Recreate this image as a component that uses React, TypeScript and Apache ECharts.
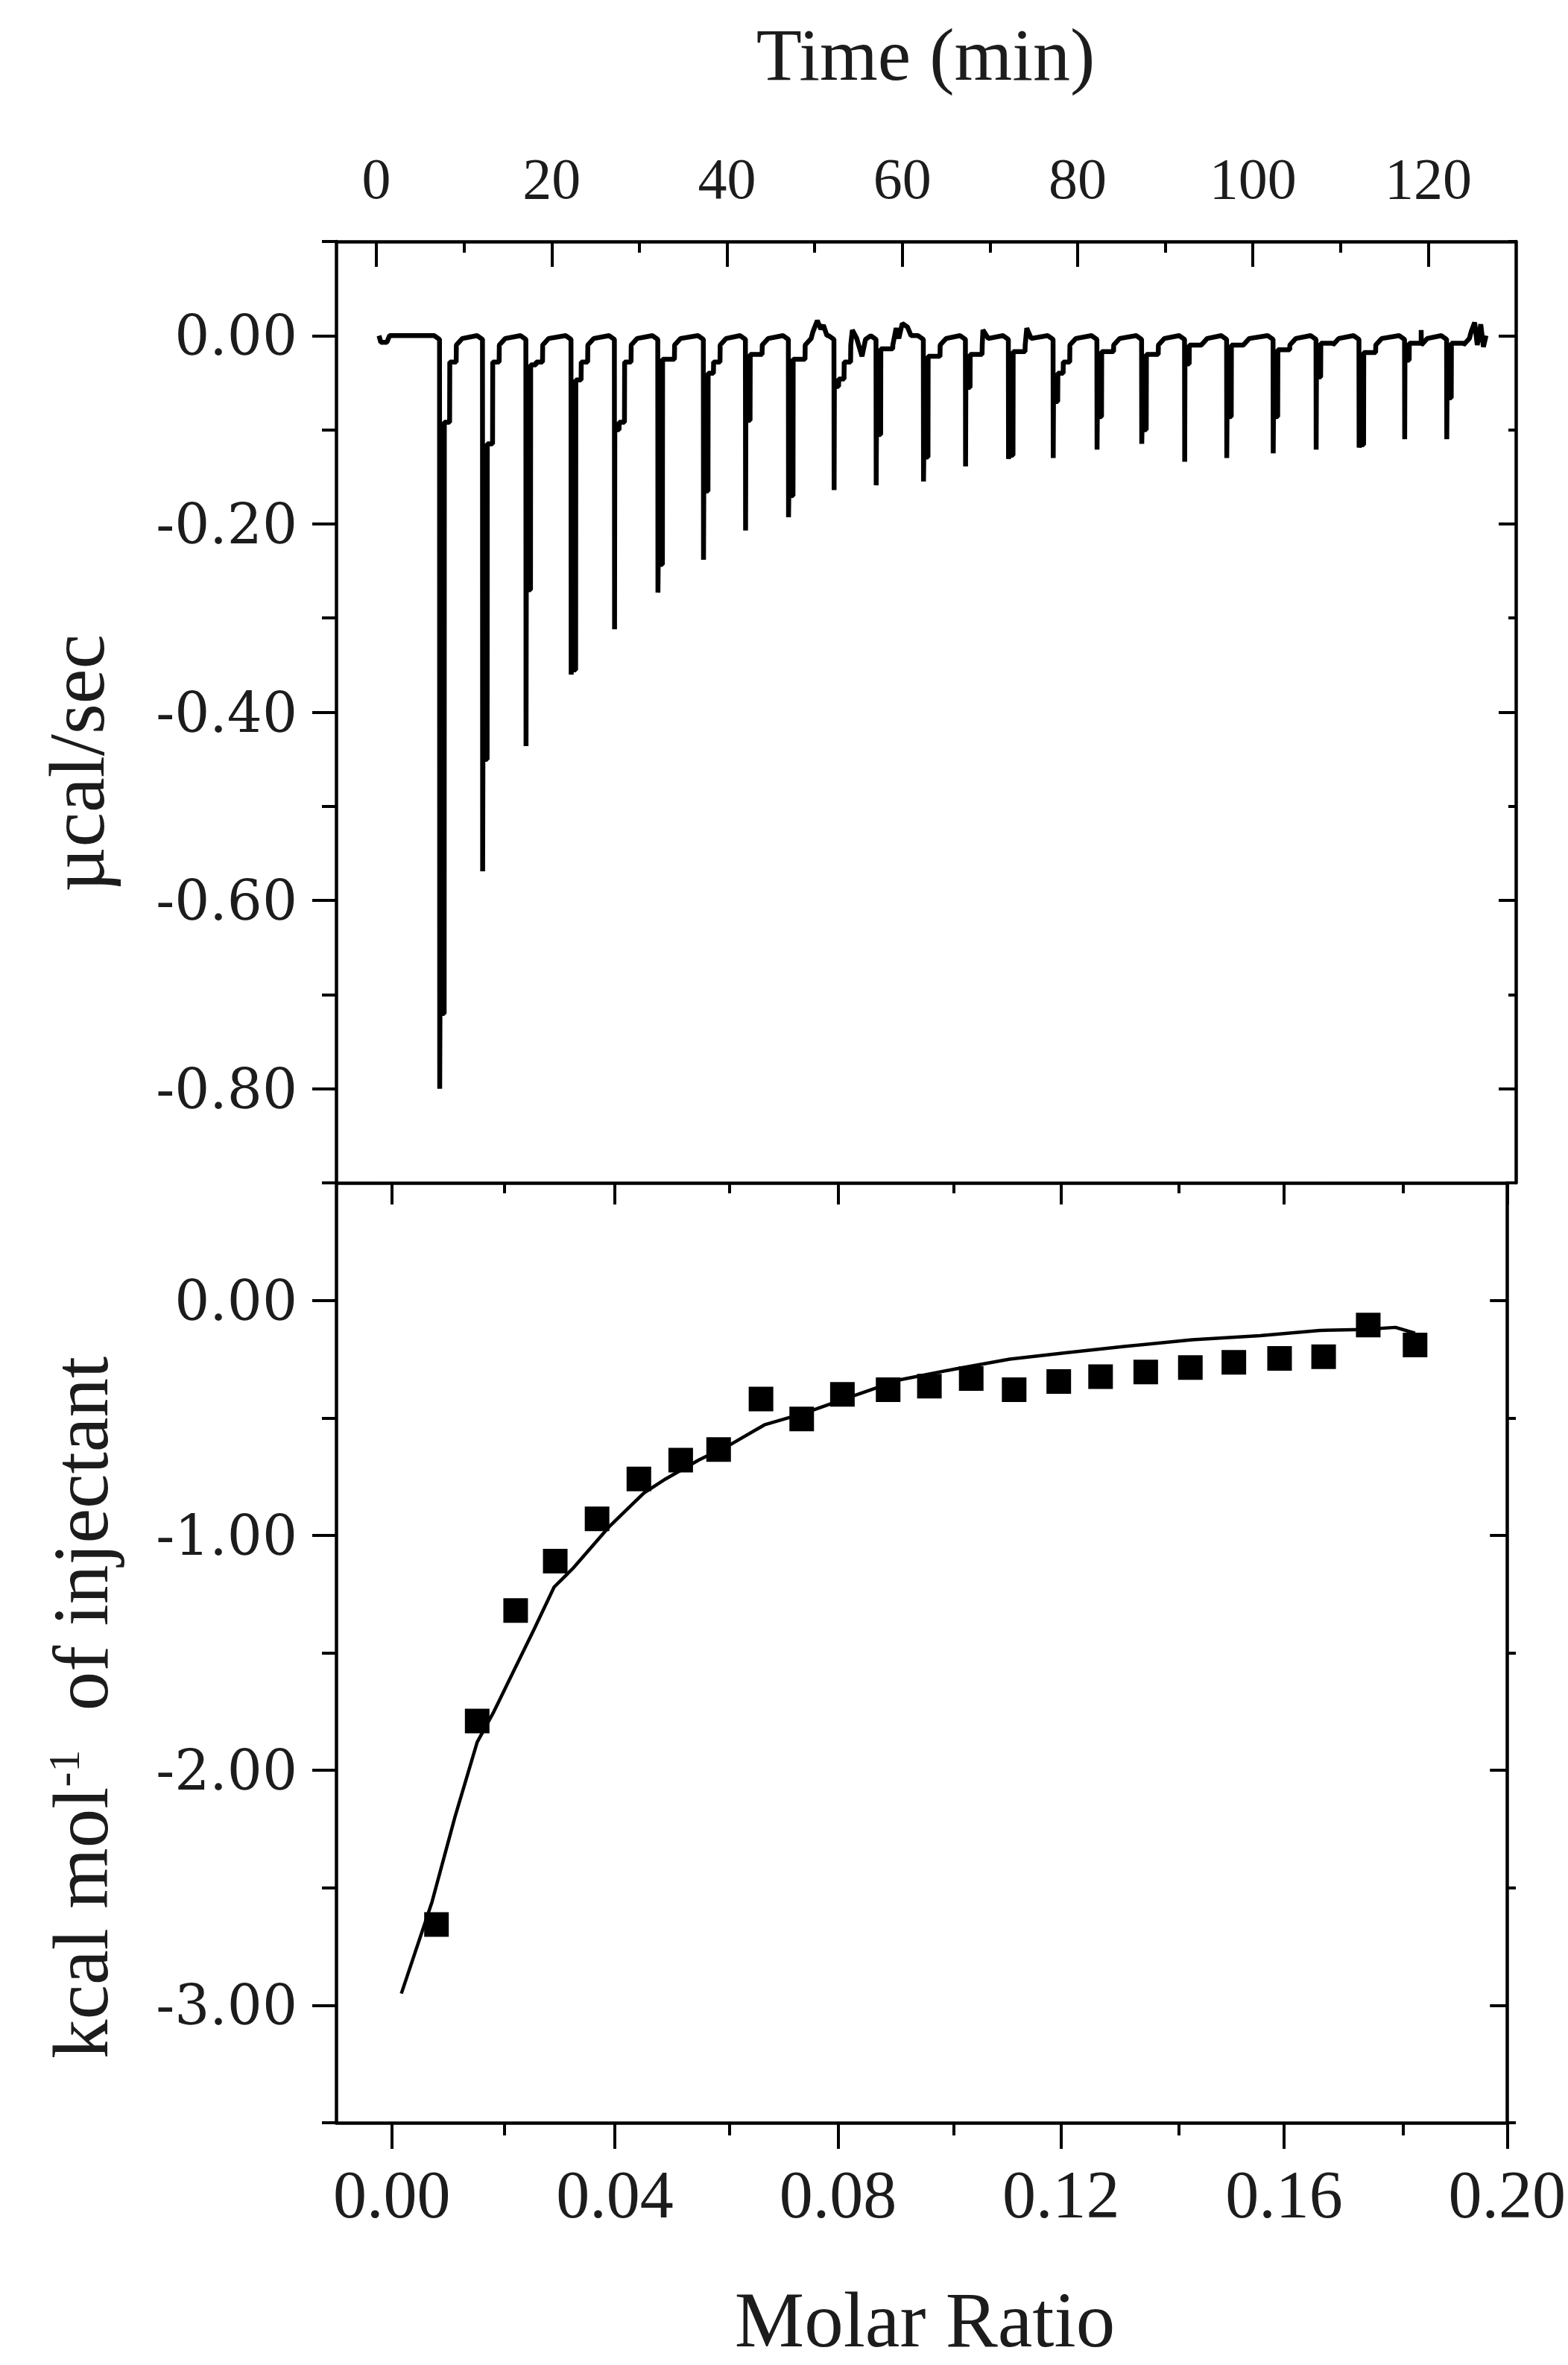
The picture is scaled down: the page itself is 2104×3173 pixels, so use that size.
import React, { useEffect, useRef } from 'react';
import * as echarts from 'echarts';

// ---------- axis ticks ----------
const timeTicks = [0, 20, 40, 60, 80, 100, 120];
const timeMinorTicks = [10, 30, 50, 70, 90, 110];
const powerTicks = [0, -0.2, -0.4, -0.6, -0.8];
const powerMinorTicks = [0.1, -0.1, -0.3, -0.5, -0.7, -0.9];
const ratioTicks = [0, 0.04, 0.08, 0.12, 0.16, 0.2];
const ratioMinorTicks = [0.02, 0.06, 0.1, 0.14, 0.18];
const heatTicks = [0, -1, -2, -3];
const heatMinorTicks = [0.5, -0.5, -1.5, -2.5, -3.5];

// ---------- raw thermogram ----------
// injection start time (min)
const injectionTime = [7.2, 12.1, 17.05, 22.2, 27.15, 32.1, 37.3, 42.1, 47.0, 52.2, 57.0, 62.4,
  67.2, 72.1, 77.2, 82.2, 87.3, 92.2, 97.0, 102.3, 107.2, 112.1, 117.3, 122.1];
// deepest point of each peak (µcal/sec)
const peakMin = [-0.8, -0.569, -0.436, -0.36, -0.312, -0.273, -0.238, -0.207, -0.193, -0.164, -0.159, -0.155,
  -0.139, -0.131, -0.13, -0.121, -0.115, -0.134, -0.13, -0.125, -0.121, -0.119, -0.11, -0.11];
// level where the fast return of the signal ends
const thickEnd = [-0.72, -0.45, -0.27, -0.355, -0.1, -0.243, -0.165, -0.09, -0.17, -0.054, -0.105, -0.129,
  -0.055, -0.127, -0.07, -0.086, -0.1, -0.03, -0.086, -0.086, -0.044, -0.116, -0.026, -0.066];
// level where the slow recovery separates from the rising edge
const gapBottom = [-0.092, -0.115, -0.031, -0.047, -0.092, -0.025, -0.04, -0.02, -0.025, -0.046, -0.014, -0.022,
  -0.02, -0.017, -0.04, -0.017, -0.02, -0.01, -0.01, -0.015, -0.008, -0.018, -0.008, -0.008];
// baseline noise between injections [time, µcal/sec]
const baselineNoise: [number, number][] = [
  [0.3, 0], [0.5, -0.007], [1.2, -0.007], [1.5, 0],
  [49.8, 0.004], [50.3, 0.016], [50.7, 0.007], [51.0, 0.011], [51.4, 0],
  [54.3, 0.006], [55.4, -0.022], [55.8, -0.004],
  [59.3, 0.008], [60.0, 0.013], [60.6, 0.009], [61.0, 0],
  [69.2, 0.006], [74.2, 0.008], [119.2, 0.006],
  [124.9, 0.004], [125.3, 0.014], [125.6, -0.01], [126.0, 0.012], [126.3, -0.012], [126.6, 0],
];

// ---------- binding isotherm ----------
const molarRatio = [0.008, 0.0153, 0.0222, 0.0293, 0.0368, 0.0443, 0.0518, 0.0586, 0.0662, 0.0735, 0.0808, 0.089,
  0.0964, 0.1039, 0.1116, 0.1196, 0.1271, 0.1352, 0.1432, 0.151, 0.1592, 0.1671, 0.1751, 0.1835];
const heatPerInjection = [-2.656, -1.79, -1.32, -1.11, -0.93, -0.76, -0.68, -0.635, -0.42, -0.505, -0.4, -0.38,
  -0.365, -0.333, -0.38, -0.345, -0.325, -0.305, -0.286, -0.264, -0.247, -0.24, -0.105, -0.19];
const fitX = [0.0017, 0.0072, 0.0113, 0.0153, 0.0183, 0.022, 0.0255, 0.0291, 0.0325, 0.0391, 0.0452, 0.0491,
  0.055, 0.061, 0.0668, 0.074, 0.0811, 0.0911, 0.101, 0.1108, 0.1208, 0.1313, 0.1435, 0.1557, 0.1664, 0.174, 0.18, 0.1835];
const fitY = [-2.95, -2.56, -2.2, -1.88, -1.75, -1.57, -1.4, -1.22, -1.14, -0.96, -0.82, -0.76,
  -0.68, -0.61, -0.53, -0.48, -0.42, -0.338, -0.292, -0.25, -0.223, -0.196, -0.168, -0.15, -0.128, -0.124, -0.115, -0.14];

// ---------- build series data ----------
const thermogram: [number, number][] = [];
injectionTime.forEach((t0, i) => {
  const p = peakMin[i];
  const k = thickEnd[i];
  const g = gapBottom[i];
  const s = Math.max(g, -0.028);
  thermogram.push(
    [t0 - 0.6, 0], [t0, -0.004], [t0 + 0.02, p], [t0 + 0.05, k], [t0 + 0.53, k], [t0 + 0.55, g],
    [t0 + 1.15, g], [t0 + 1.17, s], [t0 + 1.9, s], [t0 + 1.92, -0.01], [t0 + 2.6, -0.003],
  );
});
baselineNoise.forEach((pt) => thermogram.push(pt));
thermogram.sort((a, b) => a[0] - b[0]);

const isotherm = molarRatio.map((x, i) => [x, heatPerInjection[i]]);
const fitCurve = fitX.map((x, i) => [x, fitY[i]]);

// ---------- styles ----------
const SERIF = '"Liberation Serif", "Times New Roman", serif';
const WIDE_SERIF = '"DejaVu Serif", serif';
const INK = '#000';
const TEXT = '#1c1c1c';
const LINE_W = 4.5;
const TICK_W = 4;

const TOP_GRID = { left: 451, top: 324, width: 1583, height: 1263 };
const BOT_GRID = { left: 451, top: 1587, width: 1583, height: 1261 };

const TIME_MIN = -4.6, TIME_MAX = 130;
const POW_MIN = -0.9, POW_MAX = 0.1;
const RAT_MIN = -0.01, RAT_MAX = 0.2;
const HEAT_MIN = -3.5, HEAT_MAX = 0.5;

function ax(o: any) {
  return {
    type: 'value',
    splitLine: { show: false },
    axisLabel: { show: false },
    axisLine: { show: false, onZero: false, lineStyle: { color: INK, width: LINE_W } },
    ...o,
  };
}
function tick(values: number[], length: number, inside: boolean) {
  return { show: true, inside, length, customValues: values, lineStyle: { color: INK, width: TICK_W } };
}
const line = { show: true, onZero: false, lineStyle: { color: INK, width: LINE_W } };

const option: any = {
  animation: false,
  backgroundColor: '#fff',
  textStyle: { fontFamily: SERIF },
  grid: [
    { ...TOP_GRID, containLabel: false },
    { ...TOP_GRID, containLabel: false },
    { ...BOT_GRID, containLabel: false },
    { ...BOT_GRID, containLabel: false },
  ],
  xAxis: [
    ax({
      gridIndex: 0, position: 'top', min: TIME_MIN, max: TIME_MAX, axisLine: line,
      axisTick: tick(timeTicks, 34, true),
      axisLabel: {
        show: true, customValues: timeTicks, margin: 46, fontFamily: SERIF, fontSize: 78, color: TEXT,
        formatter: (v: number) => String(v),
      },
    }),
    ax({ gridIndex: 1, position: 'top', min: TIME_MIN, max: TIME_MAX, axisTick: tick(timeMinorTicks, 15, true) }),
    ax({
      gridIndex: 2, position: 'bottom', min: RAT_MIN, max: RAT_MAX, axisLine: line,
      axisTick: tick(ratioTicks, 35, false),
      axisLabel: {
        show: true, customValues: ratioTicks, margin: 51, fontFamily: SERIF, fontSize: 90, color: TEXT,
        formatter: (v: number) => v.toFixed(2),
      },
    }),
    ax({ gridIndex: 2, position: 'top', min: RAT_MIN, max: RAT_MAX, axisLine: line, axisTick: tick(ratioTicks, 29, true) }),
    ax({ gridIndex: 3, position: 'bottom', min: RAT_MIN, max: RAT_MAX, axisTick: tick(ratioMinorTicks, 17, false) }),
    ax({ gridIndex: 3, position: 'top', min: RAT_MIN, max: RAT_MAX, axisTick: tick(ratioMinorTicks, 14, true) }),
  ],
  yAxis: [
    ax({
      gridIndex: 0, position: 'left', min: POW_MIN, max: POW_MAX, axisLine: line,
      axisTick: tick(powerTicks, 32, false),
      axisLabel: {
        show: true, customValues: powerTicks, margin: 52, fontFamily: WIDE_SERIF, fontSize: 74, color: TEXT,
        formatter: (v: number) => v.toFixed(2),
      },
    }),
    ax({ gridIndex: 0, position: 'right', min: POW_MIN, max: POW_MAX, axisLine: line, axisTick: tick(powerTicks, 23, true) }),
    ax({ gridIndex: 1, position: 'left', min: POW_MIN, max: POW_MAX, axisTick: tick(powerMinorTicks, 19, false) }),
    ax({ gridIndex: 1, position: 'right', min: POW_MIN, max: POW_MAX, axisTick: tick(powerMinorTicks, 10, true) }),
    ax({
      gridIndex: 2, position: 'left', min: HEAT_MIN, max: HEAT_MAX, axisLine: line,
      axisTick: tick(heatTicks, 32, false),
      axisLabel: {
        show: true, customValues: heatTicks, margin: 52, fontFamily: WIDE_SERIF, fontSize: 74, color: TEXT,
        formatter: (v: number) => v.toFixed(2),
      },
    }),
    ax({ gridIndex: 2, position: 'right', min: HEAT_MIN, max: HEAT_MAX, axisLine: line, axisTick: tick(heatTicks, 23, true) }),
    ax({ gridIndex: 3, position: 'left', min: HEAT_MIN, max: HEAT_MAX, axisTick: tick(heatMinorTicks, 19, false) }),
    ax({ gridIndex: 3, position: 'right', min: HEAT_MIN, max: HEAT_MAX, axisTick: tick(heatMinorTicks, 10, true) }),
  ],
  series: [
    {
      type: 'line', xAxisIndex: 0, yAxisIndex: 0, data: thermogram, symbol: 'none', showSymbol: false,
      silent: true, lineStyle: { color: INK, width: 6.5, join: 'bevel' },
    },
    {
      type: 'line', xAxisIndex: 2, yAxisIndex: 4, data: fitCurve, symbol: 'none', showSymbol: false,
      silent: true, lineStyle: { color: INK, width: 4.5 },
    },
    {
      type: 'scatter', xAxisIndex: 2, yAxisIndex: 4, data: isotherm, symbol: 'rect', symbolSize: 33,
      silent: true, itemStyle: { color: INK, opacity: 1 },
    },
  ],
  graphic: [
    {
      type: 'text', x: 1242, y: 73,
      style: { text: 'Time (min)', fontFamily: SERIF, fontSize: 100, fill: TEXT, align: 'center', verticalAlign: 'middle' },
    },
    {
      type: 'text', x: 1241, y: 3112,
      style: { text: 'Molar Ratio', fontFamily: SERIF, fontSize: 105, fill: TEXT, align: 'center', verticalAlign: 'middle' },
    },
    {
      type: 'text', x: 103, y: 1024, rotation: Math.PI / 2,
      style: { text: 'µcal/sec', fontFamily: SERIF, fontSize: 105, fill: TEXT, align: 'center', verticalAlign: 'middle' },
    },
    {
      type: 'text', x: 108, y: 2291, rotation: Math.PI / 2,
      style: {
        text: 'kcal mol{sup|-1}  of injectant', fontFamily: SERIF, fontSize: 105, fill: TEXT,
        align: 'center', verticalAlign: 'middle',
        rich: { sup: { fontFamily: SERIF, fontSize: 60, fill: TEXT, verticalAlign: 'top' } },
      },
    },
  ],
};

export default function App() {
  const ref = useRef<HTMLDivElement>(null);
  useEffect(() => {
    const chart = echarts.init(ref.current as HTMLDivElement, undefined, { renderer: 'svg', width: 2104, height: 3173 });
    chart.setOption(option);
    return () => chart.dispose();
  }, []);
  return (
    <div
      ref={ref}
      style={{ position: 'absolute', left: 0, top: 0, width: 2104, height: 3173, background: '#fff' }}
    />
  );
}
